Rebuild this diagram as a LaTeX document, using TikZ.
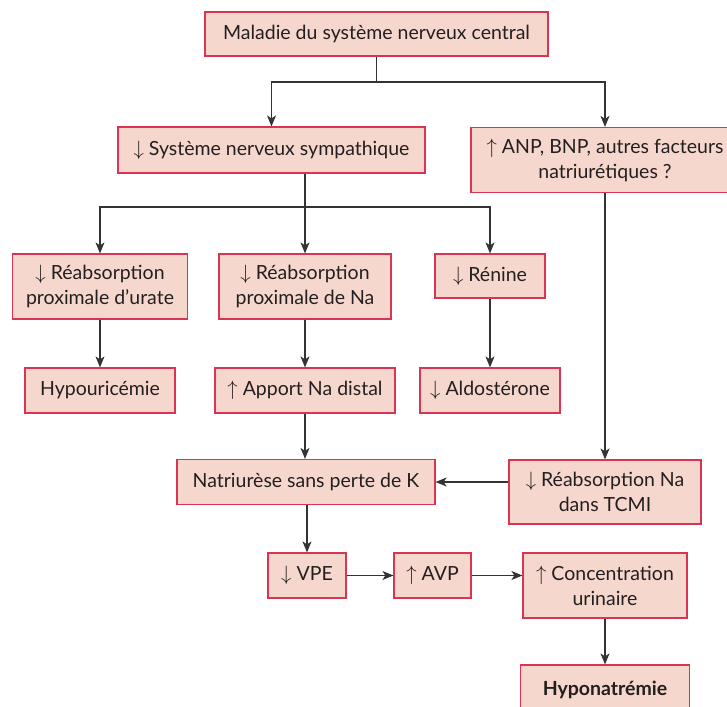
\documentclass[tikz,border=0pt]{standalone}
\usepackage{fontspec}
\setmainfont{Lato}
\usetikzlibrary{arrows.meta}
\definecolor{boxfill}{HTML}{F6D7CD}
\definecolor{boxdraw}{HTML}{D93552}
\definecolor{linec}{HTML}{333333}
\definecolor{textc}{HTML}{231F20}
\begin{document}
\begin{tikzpicture}[x=1pt,y=-1pt,
  box/.style={draw=boxdraw, fill=boxfill, line width=1.2pt, align=center,
    font=\fontsize{19.5}{25}\selectfont, text=textc, inner sep=0pt},
  conn/.style={linec, line width=1.1pt},
  arr/.style={conn, -{Stealth[length=11pt,width=9pt,inset=3pt]}}
]
\useasboundingbox (0,0) rectangle (727,706);
\node[box, minimum width=343pt, minimum height=44pt] (top) at (376.5,34) {Maladie du système nerveux central};
\node[box, minimum width=307pt, minimum height=46pt] (sns) at (271.5,150) {$\downarrow$ Système nerveux sympathique};
\node[box, minimum width=268pt, minimum height=65pt] (anp) at (605,160) {$\uparrow$ ANP, BNP, autres facteurs\\natriurétiques ?};
\node[box, minimum width=175pt, minimum height=65pt] (urate) at (100,286.5) {$\downarrow$ Réabsorption\\proximale d’urate};
\node[box, minimum width=172pt, minimum height=65pt] (na) at (305,286.5) {$\downarrow$ Réabsorption\\proximale de Na};
\node[box, minimum width=110pt, minimum height=44pt] (renine) at (490,276) {$\downarrow$ Rénine};
\node[box, minimum width=150pt, minimum height=45pt] (hypo) at (100,390.5) {Hypouricémie};
\node[box, minimum width=180pt, minimum height=45pt] (apport) at (305,390.5) {$\uparrow$ Apport Na distal};
\node[box, minimum width=140pt, minimum height=45pt] (aldo) at (490,390.5) {$\downarrow$ Aldostérone};
\node[box, minimum width=258pt, minimum height=45pt] (natri) at (306,482) {Natriurèse sans perte de K};
\node[box, minimum width=192pt, minimum height=64pt] (tcmi) at (605,492) {$\downarrow$ Réabsorption Na\\dans TCMI};
\node[box, minimum width=78pt, minimum height=45pt] (vpe) at (307,575.5) {$\downarrow$ VPE};
\node[box, minimum width=77pt, minimum height=45pt] (avp) at (432.5,575.5) {$\uparrow$ AVP};
\node[box, minimum width=164pt, minimum height=65pt] (conc) at (605,585.5) {$\uparrow$ Concentration\\urinaire};
\node[box, minimum width=169pt, minimum height=50pt] (hypon) at (605,690) {\textbf{Hyponatrémie}};

\coordinate (j1) at (376.5,82);
\coordinate (j2) at (305,207);
\draw[conn] (top.south) -- (j1);
\draw[arr] (j1) -| (sns.north);
\draw[arr] (j1) -| (anp.north);
\draw[conn] (sns.south -| j2) -- (j2);
\draw[arr] (j2) -| (urate.north);
\draw[arr] (j2) -- (na.north);
\draw[arr] (j2) -| (renine.north);
\draw[arr] (urate) -- (hypo);
\draw[arr] (na) -- (apport);
\draw[arr] (renine) -- (aldo);
\draw[arr] (apport.south) -- (apport.south |- natri.north);
\draw[arr] (anp) -- (tcmi);
\draw[arr] (tcmi.west |- natri.east) -- (natri.east);
\draw[arr] (natri.south -| vpe.north) -- (vpe.north);
\draw[arr] (vpe) -- (avp);
\draw[arr] (avp) -- (avp -| conc.west);
\draw[arr] (conc) -- (hypon);
\end{tikzpicture}
\end{document}
